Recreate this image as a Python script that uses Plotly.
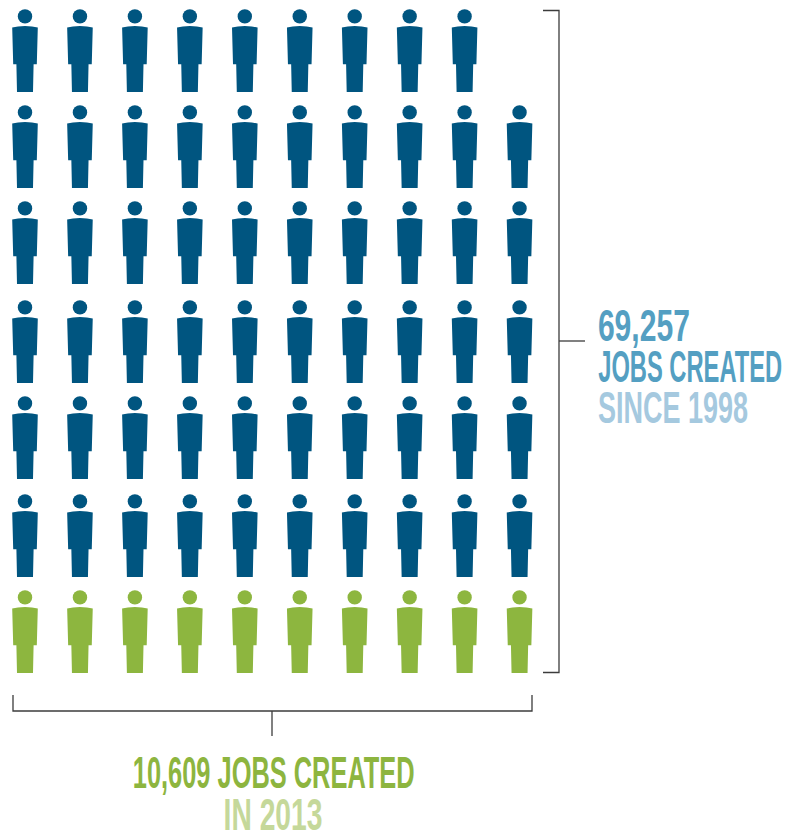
import json
import plotly.graph_objects as go

# Icons per row, top to bottom
blue_row_counts = [9, 10, 10, 10, 10, 10]
green_row_counts = [10]
total_jobs_label = "69,257"
jobs_created_label = "JOBS CREATED"
since_label = "SINCE 1998"
year_jobs_label = "10,609 JOBS CREATED"
year_label = "IN 2013"

BLUE = "#005580"
GREEN = "#8DB63F"
INK = "#3c3c3c"
W, H = 798, 832

COL_X = [25 + 54.95 * i for i in range(10)]
ROW_Y = [17, 113, 209, 308, 404, 502, 598]


def person(cx, cy):
    """Outline of one figure, head centre at (cx, cy)."""
    body = [(-12.8, 10.6), (-7, 9.4), (0, 8.9), (7, 9.4), (12.8, 10.6),
            (11.8, 47.3), (8.6, 47.3), (8, 75), (-8, 75), (-8.6, 47.3),
            (-11.8, 47.3), (-12.8, 10.6)]
    xs = [cx + p[0] for p in body] + [None]
    ys = [cy + p[1] for p in body] + [None]
    return xs, ys


def head_shape(cx, cy, color):
    r = 7.2
    return dict(type="circle", xref="x", yref="y", x0=cx - r, x1=cx + r,
                y0=cy - r - 0.6, y1=cy + r - 0.6,
                fillcolor=color, line_width=0, layer="above")


fig = go.Figure()
shapes = []


def add_rows(counts, rows, color):
    xs, ys = [], []
    for n, cy in zip(counts, rows):
        for cx in COL_X[:n]:
            bx, by = person(cx, cy)
            xs += bx
            ys += by
            shapes.append(head_shape(cx, cy, color))
    fig.add_trace(go.Scatter(x=xs, y=ys, mode="lines", fill="toself",
                             fillcolor=color, line=dict(width=0, color=color),
                             hoverinfo="skip", showlegend=False))


add_rows(blue_row_counts, ROW_Y[:6], BLUE)
add_rows(green_row_counts, ROW_Y[6:], GREEN)

# Brackets
brackets = [
    ([543, 559, 559, 543], [10.5, 10.5, 672.5, 672.5]),
    ([559, 585], [341, 341]),
    ([13, 13, 532, 532], [695, 711, 711, 695]),
    ([272, 272], [711, 736]),
]
for bx, by in brackets:
    fig.add_trace(go.Scatter(x=bx, y=by, mode="lines",
                             line=dict(color=INK, width=1.3),
                             hoverinfo="skip", showlegend=False))

# Caption text: (text, left, right, vertical centre, colour, font size)
captions = [
    (total_jobs_label, 598, 690, 325, "#549FC2", 30),
    (jobs_created_label, 598, 782, 366, "#549FC2", 23.5),
    (since_label, 598, 748, 408, "#A5C9DF", 27),
    (year_jobs_label, 132, 414, 772, "#8DB53F", 25),
    (year_label, 223, 322, 814, "#C5D89A", 28),
]
annotations = [
    dict(x=(l + r) / 2, y=yc, xref="x", yref="y", text=t, showarrow=False,
         xanchor="center", yanchor="middle",
         font=dict(family="Liberation Sans", size=s, color=c, weight=700))
    for t, l, r, yc, c, s in captions
]

fig.update_layout(
    width=W, height=H, margin=dict(l=0, r=0, t=0, b=0),
    paper_bgcolor="white", plot_bgcolor="white",
    xaxis=dict(range=[0, W], visible=False, fixedrange=True),
    yaxis=dict(range=[H, 0], visible=False, fixedrange=True),
    shapes=shapes, annotations=annotations,
)

# Stretch the captions vertically into a tall, condensed display look
CAP_HEIGHT = 32
fit = {t: {"w": r - l, "s": s} for t, l, r, _, _, s in captions}
stretch = """
var fit = %s, capHeight = %d;
document.querySelectorAll('text.annotation-text').forEach(function (el) {
  var f = fit[el.textContent];
  if (!f) return;
  var box = el.getBBox();
  var sx = f.w / box.width, sy = capHeight / (f.s * 0.72);
  var cx = box.x + box.width / 2;
  var cy = parseFloat(el.getAttribute('y') || 0) - 0.36 * f.s;
  el.setAttribute('transform', 'translate(' + cx + ' ' + cy + ') scale(' + sx + ' ' + sy + ') translate(' + (-cx) + ' ' + (-cy) + ')');
});
""" % (json.dumps(fit), CAP_HEIGHT)

fig.write_html("out.html", post_script=stretch, config={"displayModeBar": False})
